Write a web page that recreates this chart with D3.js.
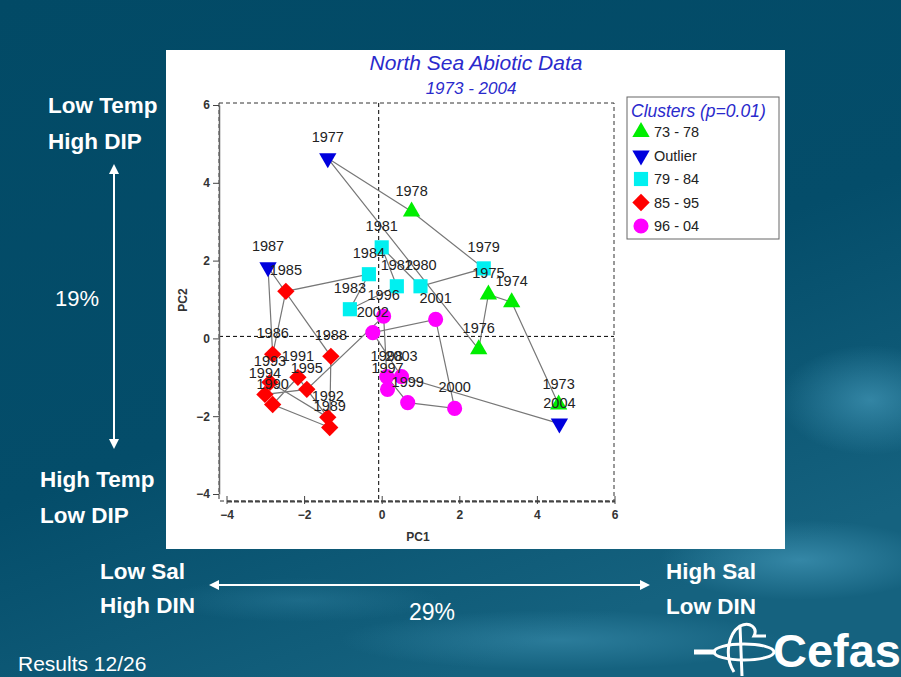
<!DOCTYPE html>
<html>
<head>
<meta charset="utf-8">
<script src="https://cdn.jsdelivr.net/npm/d3@7"></script>
<style>
  body { margin: 0; background: #034a66; }
  svg { display: block; }
</style>
</head>
<body>
<div id="chart"></div>
<script>
// PCA scores, one point per year (PC1, PC2)
var years = [1973, 1974, 1975, 1976, 1977, 1978, 1979, 1980, 1981, 1982, 1983, 1984,
             1985, 1986, 1987, 1988, 1989, 1990, 1991, 1992, 1993, 1994, 1995,
             1996, 1997, 1998, 1999, 2000, 2001, 2002, 2003, 2004];
var pc1 = [4.56, 3.35, 2.75, 2.50, -1.39, 0.77, 2.63, 1.00, 0.00, 0.39, -0.82, -0.33,
           -2.47, -2.81, -2.93, -1.31, -1.34, -2.81, -2.16, -1.39, -2.88, -3.01, -1.93,
           0.05, 0.15, 0.13, 0.67, 1.88, 1.39, -0.23, 0.51, 4.58];
var pc2 = [-1.70, 0.93, 1.13, -0.28, 4.63, 3.26, 1.80, 1.34, 2.34, 1.34, 0.75, 1.65,
           1.21, -0.41, 1.83, -0.46, -2.29, -1.70, -1.00, -2.03, -1.13, -1.44, -1.31,
           0.57, -1.31, -0.98, -1.65, -1.80, 0.49, 0.15, -0.98, -2.19];
// cluster index per year (0: 73-78, 1: outlier, 2: 79-84, 3: 85-95, 4: 96-04)
var cluster = [0, 0, 0, 0, 1, 0, 2, 2, 2, 2, 2, 2,
               3, 3, 1, 3, 3, 3, 3, 3, 3, 3, 3,
               4, 4, 4, 4, 4, 4, 4, 4, 1];
var clusterNames = ["73 - 78", "Outlier", "79 - 84", "85 - 95", "96 - 04"];
var clusterColors = ["#00ee00", "#0000dd", "#00f0f0", "#ff0000", "#ff00ff"];
var xTicks = [-4, -2, 0, 2, 4, 6];
var yTicks = [-4, -2, 0, 2, 4, 6];

var width = 901, height = 677;

var svg = d3.select("#chart").append("svg")
    .attr("width", width)
    .attr("height", height);

// Slide background with a lighter "water" feel toward the bottom right
var defs = svg.append("defs");
var bg = defs.append("linearGradient").attr("id", "bg")
    .attr("x1", "0").attr("y1", "0").attr("x2", "0.5").attr("y2", "1");
bg.append("stop").attr("offset", "0").attr("stop-color", "#024a66");
bg.append("stop").attr("offset", "0.6").attr("stop-color", "#044d6a");
bg.append("stop").attr("offset", "1").attr("stop-color", "#15627f");
var glow = defs.append("radialGradient").attr("id", "glow");
glow.append("stop").attr("offset", "0").attr("stop-color", "#3f93b3").attr("stop-opacity", 0.75);
glow.append("stop").attr("offset", "1").attr("stop-color", "#3f93b3").attr("stop-opacity", 0);

svg.append("rect").attr("width", width).attr("height", height).attr("fill", "url(#bg)");
svg.append("ellipse").attr("cx", 870).attr("cy", 400).attr("rx", 90).attr("ry", 55).attr("fill", "url(#glow)");
svg.append("ellipse").attr("cx", 800).attr("cy", 560).attr("rx", 140).attr("ry", 40).attr("fill", "url(#glow)");
svg.append("ellipse").attr("cx", 560).attr("cy", 640).attr("rx", 220).attr("ry", 30).attr("fill", "url(#glow)").attr("opacity", 0.7);
svg.append("ellipse").attr("cx", 300).attr("cy", 600).attr("rx", 140).attr("ry", 22).attr("fill", "url(#glow)").attr("opacity", 0.4);

// White chart panel
svg.append("rect")
    .attr("x", 166).attr("y", 50)
    .attr("width", 619).attr("height", 499)
    .attr("fill", "white");

// Scales
var x = d3.scaleLinear().domain([-4, 6]).range([226.5, 614.5]);
var y = d3.scaleLinear().domain([-4, 6]).range([494, 105]);

var frame = { left: 219, top: 103, right: 614, bottom: 501 };

// Dashed frame
svg.append("rect")
    .attr("x", frame.left).attr("y", frame.top)
    .attr("width", frame.right - frame.left).attr("height", frame.bottom - frame.top)
    .attr("fill", "none")
    .attr("stroke", "#333")
    .attr("stroke-width", 1)
    .attr("stroke-dasharray", "4,3");

// Zero lines
svg.append("line")
    .attr("x1", x(0) - 3).attr("x2", x(0) - 3)
    .attr("y1", frame.top).attr("y2", frame.bottom)
    .attr("stroke", "#000").attr("stroke-dasharray", "4,3");
svg.append("line")
    .attr("x1", frame.left).attr("x2", frame.right)
    .attr("y1", y(0) - 2).attr("y2", y(0) - 2)
    .attr("stroke", "#000").attr("stroke-dasharray", "4,3");

// Axes
var xAxis = svg.append("g")
    .attr("transform", "translate(0," + frame.bottom + ")")
    .call(d3.axisBottom(x).tickValues(xTicks).tickSize(4).tickSizeOuter(0));
xAxis.select(".domain").attr("stroke", "#444").attr("stroke-width", 2).attr("stroke-dasharray", "5,2");
xAxis.selectAll(".tick line").attr("stroke", "#444").attr("y1", -5).attr("y2", 3);
xAxis.selectAll("text")
    .attr("y", 9)
    .attr("fill", "#333")
    .style("font", "bold 12px 'Liberation Sans', Arial, sans-serif");

var yAxis = svg.append("g")
    .attr("transform", "translate(" + frame.left + ",0)")
    .call(d3.axisLeft(y).tickValues(yTicks).tickSize(6).tickSizeOuter(0));
yAxis.select(".domain").attr("stroke", "#666").attr("stroke-width", 1.5);
yAxis.selectAll(".tick line").attr("stroke", "#444");
yAxis.selectAll("text")
    .attr("x", -9)
    .attr("fill", "#333")
    .style("font", "bold 12px 'Liberation Sans', Arial, sans-serif");

// Axis titles
svg.append("text")
    .attr("x", 418).attr("y", 541)
    .attr("text-anchor", "middle")
    .attr("fill", "#333")
    .style("font", "bold 12px 'Liberation Sans', Arial, sans-serif")
    .text("PC1");
svg.append("text")
    .attr("transform", "translate(187,300) rotate(-90)")
    .attr("text-anchor", "middle")
    .attr("fill", "#333")
    .style("font", "bold 12px 'Liberation Sans', Arial, sans-serif")
    .text("PC2");

// Chart titles
svg.append("text")
    .attr("x", 476).attr("y", 70)
    .attr("text-anchor", "middle")
    .attr("fill", "#2a2acc")
    .style("font", "italic 21px 'Liberation Sans', Arial, sans-serif")
    .text("North Sea Abiotic Data");
svg.append("text")
    .attr("x", 471).attr("y", 94)
    .attr("text-anchor", "middle")
    .attr("fill", "#2a2acc")
    .style("font", "italic 17px 'Liberation Sans', Arial, sans-serif")
    .text("1973 - 2004");

// Trajectory line through the years in order
var pts = years.map(function (yr, i) { return { year: yr, x: pc1[i], y: pc2[i], c: cluster[i] }; });
var line = d3.line().x(function (d) { return x(d.x); }).y(function (d) { return y(d.y); });
svg.append("path")
    .datum(pts)
    .attr("d", line)
    .attr("fill", "none")
    .attr("stroke", "#777")
    .attr("stroke-width", 1.2);

// Marker shapes per cluster
function markerPath(c) {
    if (c === 0 || c === 1) return d3.symbol().type(d3.symbolTriangle).size(130)();
    if (c === 2) return d3.symbol().type(d3.symbolSquare).size(200)();
    if (c === 3) return d3.symbol().type(d3.symbolSquare).size(150)();
    return d3.symbol().type(d3.symbolCircle).size(180)();
}
function markerTransform(c) {
    if (c === 1) return " rotate(180)";
    if (c === 3) return " rotate(45)";
    return "";
}

svg.append("g").selectAll("path")
    .data(pts)
    .join("path")
    .attr("d", function (d) { return markerPath(d.c); })
    .attr("transform", function (d) { return "translate(" + x(d.x) + "," + y(d.y) + ")" + markerTransform(d.c); })
    .attr("fill", function (d) { return clusterColors[d.c]; });

// Year labels above each marker
svg.append("g").selectAll("text")
    .data(pts)
    .join("text")
    .attr("x", function (d) { return x(d.x); })
    .attr("y", function (d) { return y(d.y) - 16; })
    .attr("text-anchor", "middle")
    .attr("fill", "#222")
    .style("font", "14.5px 'Liberation Sans', Arial, sans-serif")
    .text(function (d) { return d.year; });

// Legend
var legend = svg.append("g").attr("transform", "translate(627,97)");
legend.append("rect")
    .attr("width", 152).attr("height", 142)
    .attr("fill", "white")
    .attr("stroke", "#666");
legend.append("text")
    .attr("x", 4).attr("y", 20)
    .attr("fill", "#2a2acc")
    .style("font", "italic 17.5px 'Liberation Sans', Arial, sans-serif")
    .text("Clusters (p=0.01)");
clusterNames.forEach(function (name, i) {
    var ly = 35 + i * 23.5;
    legend.append("path")
        .attr("d", markerPath(i))
        .attr("transform", "translate(14," + ly + ")" + markerTransform(i))
        .attr("fill", clusterColors[i]);
    legend.append("text")
        .attr("x", 27).attr("y", ly + 5)
        .attr("fill", "#222")
        .style("font", "14.5px 'Liberation Sans', Arial, sans-serif")
        .text(name);
});

// Slide annotations around the chart
var white = "#ffffff";
function slideText(tx, ty, txt, bold, size, anchor) {
    return svg.append("text")
        .attr("x", tx).attr("y", ty)
        .attr("text-anchor", anchor || "start")
        .attr("fill", white)
        .style("font", (bold ? "bold " : "") + size + "px 'Liberation Sans', Arial, sans-serif")
        .text(txt);
}
slideText(48, 113, "Low Temp", true, 22.5);
slideText(48, 149, "High DIP", true, 22.5);
slideText(77, 306, "19%", false, 22, "middle");
slideText(40, 487, "High Temp", true, 22.5);
slideText(40, 523, "Low DIP", true, 22.5);
slideText(100, 579, "Low Sal", true, 22.5);
slideText(100, 613, "High DIN", true, 22.5);
slideText(432, 620, "29%", false, 23, "middle");
slideText(666, 579, "High Sal", true, 22.5);
slideText(666, 614, "Low DIN", true, 22.5);
slideText(18, 671, "Results 12/26", false, 21);

// Double-headed arrows
defs.append("marker").attr("id", "arr")
    .attr("viewBox", "0 0 10 10").attr("refX", 8).attr("refY", 5)
    .attr("markerWidth", 5).attr("markerHeight", 5)
    .attr("orient", "auto-start-reverse")
    .append("path").attr("d", "M0,0L10,5L0,10z").attr("fill", white);
svg.append("line")
    .attr("x1", 114).attr("y1", 166).attr("x2", 114).attr("y2", 447)
    .attr("stroke", white).attr("stroke-width", 2)
    .attr("marker-start", "url(#arr)").attr("marker-end", "url(#arr)");
svg.append("line")
    .attr("x1", 211).attr("y1", 585).attr("x2", 648).attr("y2", 585)
    .attr("stroke", white).attr("stroke-width", 2)
    .attr("marker-start", "url(#arr)").attr("marker-end", "url(#arr)");

// Cefas logo (approximate)
var logo = svg.append("g").attr("transform", "translate(694,618)");
logo.append("ellipse").attr("cx", 50).attr("cy", 34).attr("rx", 30).attr("ry", 8)
    .attr("fill", "none").attr("stroke", white).attr("stroke-width", 3);
logo.append("path")
    .attr("d", "M40,54 C30,38 34,16 46,8 C56,3 64,10 60,18 L72,18 M46,8 L48,58")
    .attr("fill", "none").attr("stroke", white).attr("stroke-width", 3);
logo.append("line").attr("x1", 0).attr("y1", 34).attr("x2", 22).attr("y2", 34)
    .attr("stroke", white).attr("stroke-width", 5);
slideText(773, 667, "Cefas", true, 46).attr("textLength", 128).attr("lengthAdjust", "spacingAndGlyphs");
</script>
</body>
</html>
